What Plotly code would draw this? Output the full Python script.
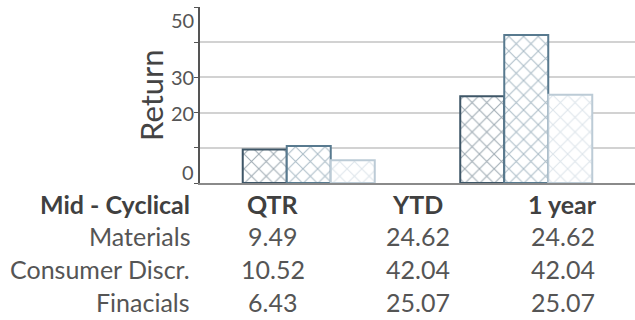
import plotly.graph_objects as go

# Returns by sector and period
periods = ["QTR", "YTD", "1 year"]
sectors = ["Materials", "Consumer Discr.", "Finacials"]
qtr = [9.49, 10.52, 6.43]
ytd = [24.62, 42.04, 25.07]
one_year = [24.62, 42.04, 25.07]
group_title = "Mid - Cyclical"

# Chart shows two bar groups: QTR and YTD
chart_periods = periods[:2]
colors = ["#3e5667", "#587a8f", "#bccbd6"]
y_labels = [0, 20, 30, 50]

FONT = "Lato"
TABLE_SIZE = 25

fig = go.Figure()
for i, name in enumerate(sectors):
    fig.add_trace(go.Bar(
        x=chart_periods,
        y=[qtr[i], ytd[i]],
        name=name,
        marker=dict(
            color="white",
            line=dict(color=colors[i], width=2),
            pattern=dict(shape="x", fgcolor=colors[i], bgcolor="white",
                         size=10.4, solidity=0.19, fillmode="overlay"),
        ),
    ))

annotations = []
# y tick labels (ends nudged inside the plot)
shifts = {0: 11, 50: -13}
for v in y_labels:
    annotations.append(dict(
        x=0, xref="paper", y=v, yref="y", text=str(v), showarrow=False,
        xanchor="right", yanchor="middle", xshift=-4, yshift=shifts.get(v, 0),
        font=dict(family=FONT, size=20, color="#555555"),
    ))
# y axis title
annotations.append(dict(
    x=0, xref="paper", y=0.5, yref="paper", text="Return", textangle=-90,
    showarrow=False, xanchor="center", yanchor="middle", xshift=-49,
    font=dict(family=FONT, size=31, color="#444444"),
))

# Table below the plot
plot_h = 176.0
row_y = [204, 236, 269, 302]
col_x = [1 / 6, 3 / 6, 5 / 6]


def py(ypx):
    return (183 - ypx) / plot_h


annotations.append(dict(
    x=0, xref="paper", y=py(row_y[0]), yref="paper", text="<b>%s</b>" % group_title,
    showarrow=False, xanchor="right", yanchor="middle", xshift=-8,
    font=dict(family=FONT, size=TABLE_SIZE, color="#404040"),
))
for j, p in enumerate(periods):
    annotations.append(dict(
        x=col_x[j], xref="paper", y=py(row_y[0]), yref="paper", text="<b>%s</b>" % p,
        showarrow=False, xanchor="center", yanchor="middle",
        font=dict(family=FONT, size=TABLE_SIZE, color="#404040"),
    ))
columns = [qtr, ytd, one_year]
for i, s in enumerate(sectors):
    annotations.append(dict(
        x=0, xref="paper", y=py(row_y[i + 1]), yref="paper", text=s,
        showarrow=False, xanchor="right", yanchor="middle", xshift=-8,
        font=dict(family=FONT, size=TABLE_SIZE, color="#555555"),
    ))
    for j, col in enumerate(columns):
        annotations.append(dict(
            x=col_x[j], xref="paper", y=py(row_y[i + 1]), yref="paper",
            text="%.2f" % col[i], showarrow=False, xanchor="center", yanchor="middle",
            font=dict(family=FONT, size=TABLE_SIZE, color="#555555"),
        ))

fig.update_layout(
    width=635, height=320,
    margin=dict(l=200, r=0, t=7, b=137),
    paper_bgcolor="white", plot_bgcolor="white",
    barmode="group", bargap=0.393, bargroupgap=0,
    showlegend=False,
    annotations=annotations,
    xaxis=dict(showticklabels=False, showgrid=False, ticks="",
               showline=True, linecolor="#8a8a8a", linewidth=1.5),
    yaxis=dict(range=[0, 50], tickvals=y_labels, showticklabels=False,
               ticks="outside", ticklen=4, tickcolor="#555555",
               showgrid=True, gridcolor="#d2d2d2", gridwidth=1.5,
               showline=True, linecolor="#555555", linewidth=1.5,
               zeroline=False,
               minor=dict(dtick=10, tick0=0, ticks="outside", ticklen=4,
                          tickcolor="#555555", showgrid=True,
                          gridcolor="#d2d2d2", gridwidth=1.5)),
)

fig.write_html("out.html")
